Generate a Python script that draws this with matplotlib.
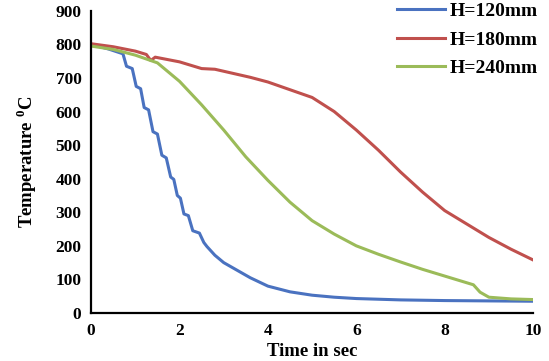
import matplotlib
matplotlib.use('Agg')
import matplotlib.pyplot as plt

# values
t_120 = [0, 0.4, 0.72, 0.8, 0.93, 1.02, 1.12, 1.2, 1.3, 1.4, 1.5, 1.6, 1.7, 1.8, 1.87, 1.95,
         2.02, 2.1, 2.2, 2.3, 2.45, 2.55, 2.62, 2.8, 3.0, 3.2, 3.6, 4.0, 4.5, 5.0, 5.5, 6.0,
         7.0, 8.0, 9.0, 10.0]
T_120 = [800, 786, 772, 735, 728, 675, 668, 612, 605, 540, 533, 470, 462, 405, 398, 350,
         342, 295, 290, 245, 238, 210, 198, 172, 150, 135, 105, 80, 63, 53, 47, 43,
         39, 37, 36, 35]

t_180 = [0, 0.5, 1.0, 1.25, 1.35, 1.45, 2.0, 2.5, 2.8, 3.2, 3.6, 4.0, 4.5, 5.0, 5.5, 6.0,
         6.5, 7.0, 7.5, 8.0, 8.5, 9.0, 9.5, 10.0]
T_180 = [802, 793, 780, 770, 752, 762, 748, 728, 726, 714, 702, 688, 665, 642, 600, 545,
         485, 420, 360, 305, 265, 225, 190, 158]

t_240 = [0, 0.5, 1.0, 1.5, 2.0, 2.5, 3.0, 3.5, 4.0, 4.5, 5.0, 5.5, 6.0, 6.5, 7.0, 7.5,
         8.0, 8.5, 8.65, 8.8, 9.0, 9.5, 10.0]
T_240 = [795, 785, 768, 745, 690, 620, 545, 465, 395, 330, 275, 235, 200, 175, 152, 130,
         110, 90, 84, 62, 47, 42, 40]

x_ticks = [0, 2, 4, 6, 8, 10]
y_ticks = [0, 100, 200, 300, 400, 500, 600, 700, 800, 900]

plt.rcParams['font.family'] = ['Liberation Serif', 'DejaVu Serif']
plt.rcParams['font.weight'] = 'bold'
plt.rcParams['mathtext.fontset'] = 'custom'
plt.rcParams['mathtext.bf'] = 'Liberation Serif:bold'
plt.rcParams['mathtext.rm'] = 'Liberation Serif:bold'

fig = plt.figure(figsize=(5.49, 3.61), dpi=100)
ax = fig.add_axes([0.166, 0.133, 0.805, 0.837])

ax.plot(t_120, T_120, color='#4a72c0', lw=2.2, label='H=120mm')
ax.plot(t_180, T_180, color='#c0504d', lw=2.2, label='H=180mm')
ax.plot(t_240, T_240, color='#9bbb59', lw=2.2, label='H=240mm')

ax.set_xlim(0, 10)
ax.set_ylim(0, 900)
ax.set_xticks(x_ticks)
ax.set_yticks(y_ticks)
ax.tick_params(length=0, labelsize=12.5, pad=7)
for lab in ax.get_xticklabels() + ax.get_yticklabels():
    lab.set_fontweight('bold')

for s in ['top', 'right']:
    ax.spines[s].set_visible(False)
for s in ['left', 'bottom']:
    ax.spines[s].set_linewidth(1.6)
    ax.spines[s].set_color('black')

ax.set_xlabel('Time in sec', fontsize=13.5, fontweight='bold', labelpad=3)
ax.set_ylabel(r'Temperature $^{\mathbf{0}}$C', fontsize=13.5, fontweight='bold', labelpad=12)

fig.legend(loc='upper right', bbox_to_anchor=(1.0, 1.025), frameon=False,
           prop={'size': 14, 'weight': 'bold'}, handlelength=2.5,
           labelspacing=0.55, handletextpad=0.2, borderaxespad=0.2)

fig.savefig('out.png', dpi=100)
